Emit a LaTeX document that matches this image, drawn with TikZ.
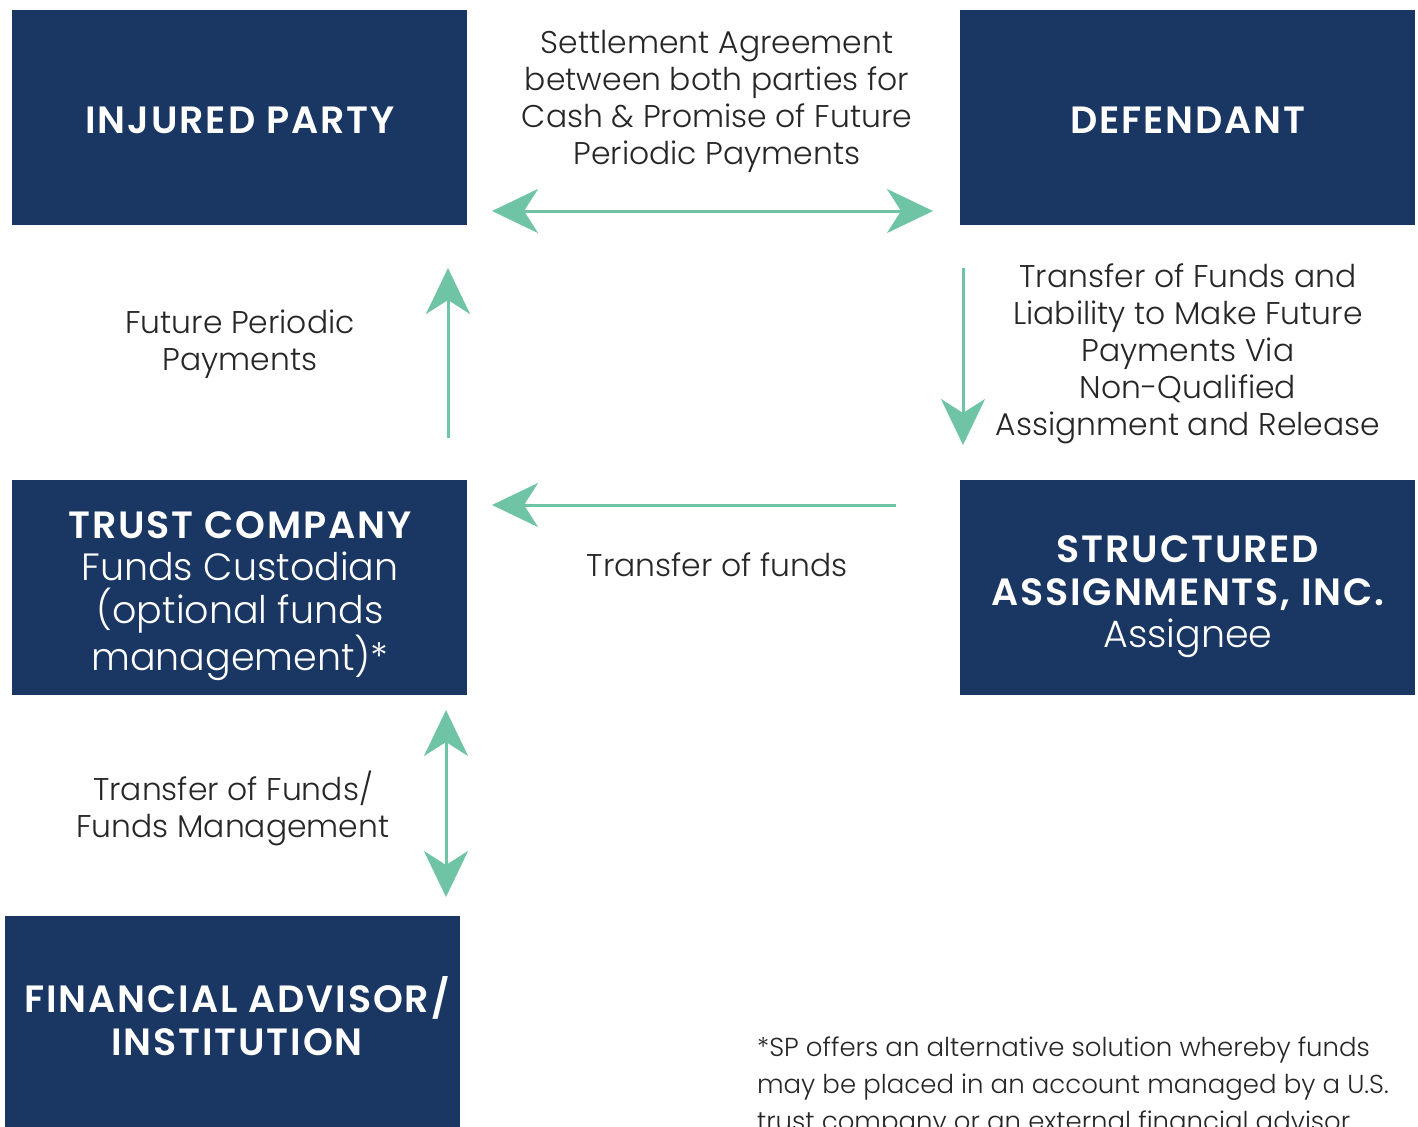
\documentclass[tikz,border=0pt]{standalone}
\usepackage{fontspec}
\setmainfont{Poppins}[UprightFont=* Light, BoldFont=* SemiBold]
\usetikzlibrary{arrows.meta}
\definecolor{navy}{HTML}{1A3764}
\definecolor{mint}{HTML}{6EC4A4}
\definecolor{txt}{HTML}{262626}
\newcommand{\hd}{\bfseries\fontsize{19}{21.3}\selectfont\addfontfeature{LetterSpace=5}}
\newcommand{\sub}{\fontsize{19}{21.3}\selectfont}
\tikzset{
  x=0.5pt, y=-0.5pt,
  box/.style={fill=navy, draw=none},
  boxtext/.style={text=white, align=center, font=\fontsize{19}{21.3}\selectfont},
  lbl/.style={text=txt, align=center, font=\fontsize{15.7}{18.5}\selectfont},
  conn/.style={draw=mint, line width=1.5pt, -{Stealth[length=23pt, width=22pt, inset=7pt]}},
  conn2/.style={draw=mint, line width=1.5pt, {Stealth[length=23pt, width=22pt, inset=7pt]}-{Stealth[length=23pt, width=22pt, inset=7pt]}},
}
\begin{document}
\begin{tikzpicture}
\useasboundingbox (0,0) rectangle (1418,1126);
\clip (0,0) rectangle (1418,1126);
% boxes
\fill[box] (12,10) rectangle (467,225);
\fill[box] (960,10) rectangle (1415,225);
\fill[box] (12,480) rectangle (467,695);
\fill[box] (960,480) rectangle (1415,695);
\fill[box] (5,916) rectangle (460,1200);
\node[boxtext] (ip) at (240,120) {\hd INJURED PARTY};
\node[boxtext] (def) at (1188,120) {\hd DEFENDANT};
\node[boxtext] (tc) at (240,596) {\hd TRUST COMPANY\\\sub Funds Custodian\\\sub (optional funds\\\sub management)*};
\node[boxtext] (sa) at (1188,597) {\hd STRUCTURED\\\hd ASSIGNMENTS, INC.\\\sub Assignee};
\node[boxtext] (fa) at (237,1016) {\hd FINANCIAL ADVISOR/\\\hd INSTITUTION};
% coordinates for connectors
\coordinate (a1) at (492,211);
\coordinate (a2) at (933,211);
\coordinate (b1) at (448,438);
\coordinate (b2) at (448,268);
\coordinate (c1) at (963,268);
\coordinate (c2) at (963,445);
\coordinate (d1) at (896,505);
\coordinate (d2) at (492,505);
\coordinate (e1) at (446,710);
\coordinate (e2) at (446,897);
\draw[conn2] (a1) -- (a2);
\draw[conn] (b1) -- (b2);
\draw[conn] (c1) -- (c2);
\draw[conn] (d1) -- (d2);
\draw[conn2] (e1) -- (e2);
% labels
\node[lbl] (l1) at (717,101) {Settlement Agreement\\between both parties for\\Cash \& Promise of Future\\Periodic Payments};
\node[lbl] (l2) at (1188,354) {Transfer of Funds and\\Liability to Make Future\\Payments Via\\Non-Qualified\\Assignment and Release};
\node[lbl] (l3) at (240,344) {Future Periodic\\Payments};
\node[lbl] (l4) at (717,565) {Transfer of funds};
\node[lbl] (l5) at (233,808) {Transfer of Funds/\\Funds Management};
\node[lbl, align=left, anchor=north west, font=\fontsize{13}{18.5}\selectfont] (fn) at (750,1030) {*SP offers an alternative solution whereby funds\\may be placed in an account managed by a U.S.\\trust company or an external financial advisor.};
\end{tikzpicture}
\end{document}
